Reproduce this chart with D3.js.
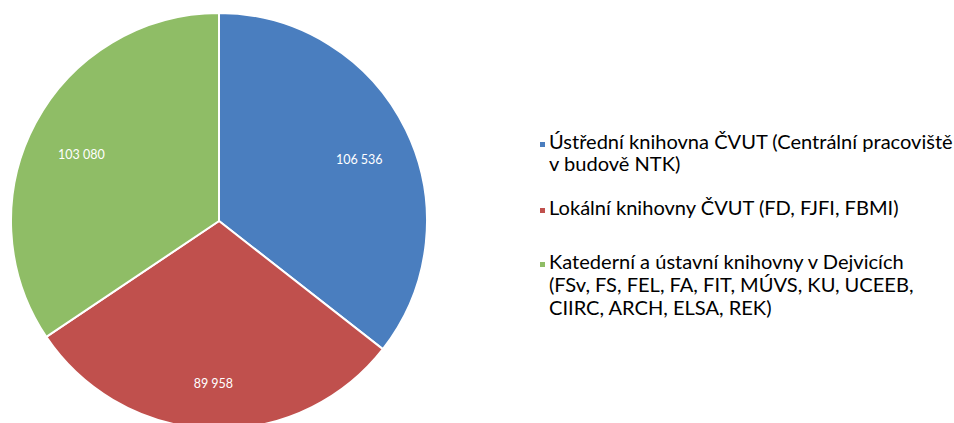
<!DOCTYPE html>
<html lang="cs">
<head>
<meta charset="UTF-8">
<title>Knihovny ČVUT</title>
<style>
    body { margin: 0; background: #fff; }
    svg { display: block; }
    text { font-family: Lato, "Open Sans", sans-serif; }
</style>
</head>
<body>
<script src="https://cdn.jsdelivr.net/npm/d3@7"></script>
<script>
    // données
    const categories = [
        "Ústřední knihovna ČVUT (Centrální pracoviště v budově NTK)",
        "Lokální knihovny ČVUT (FD, FJFI, FBMI)",
        "Katederní a ústavní knihovny v Dejvicích (FSv, FS, FEL, FA, FIT, MÚVS, KU, UCEEB, CIIRC, ARCH, ELSA, REK)"
    ];
    const valeurs = [106536, 89958, 103080];
    const lignesLegende = [
        ["Ústřední knihovna ČVUT (Centrální pracoviště", "v budově NTK)"],
        ["Lokální knihovny ČVUT (FD, FJFI, FBMI)"],
        ["Katederní a ústavní knihovny v Dejvicích", "(FSv, FS, FEL, FA, FIT, MÚVS, KU, UCEEB,", "CIIRC, ARCH, ELSA, REK)"]
    ];
    const couleurs = ["#4A7EBF", "#C0504D", "#8FBD66"];

    const largeur = 954, hauteur = 423;
    const cx = 219, cy = 221, rayon = 208;

    const svg = d3.select("body").append("svg")
        .attr("width", largeur)
        .attr("height", hauteur);

    const couleur = d3.scaleOrdinal().domain(categories).range(couleurs);

    const pie = d3.pie().sort(null).value(d => d.v);
    const donnees = pie(categories.map((c, i) => ({ c: c, v: valeurs[i] })));

    const arc = d3.arc().innerRadius(0).outerRadius(rayon);
    const arcLabel = d3.arc().innerRadius(156).outerRadius(156);

    const g = svg.append("g").attr("transform", `translate(${cx},${cy})`);

    g.selectAll("path")
        .data(donnees)
        .enter()
        .append("path")
            .attr("d", arc)
            .attr("fill", d => couleur(d.data.c))
            .attr("stroke", "#fff")
            .attr("stroke-width", 2);

    // étiquettes des valeurs
    const format = d3.formatLocale({ decimal: ",", thousands: "\u00a0", grouping: [3] }).format(",d");
    g.selectAll("text.valeur")
        .data(donnees)
        .enter()
        .append("text")
            .attr("class", "valeur")
            .attr("transform", d => {
                const p = arcLabel.centroid(d);
                return `translate(${p[0]},${p[1] + 7})`;
            })
            .attr("text-anchor", "middle")
            .attr("dy", "0.35em")
            .attr("font-size", 12.5)
            .attr("fill", "#fff")
            .text(d => format(d.data.v));

    // légende (lignes de base)
    const baseLegende = [[149, 171], [215], [269, 292, 315]];
    const legende = svg.append("g");

    lignesLegende.forEach((lignes, i) => {
        legende.append("rect")
            .attr("x", 540)
            .attr("y", baseLegende[i][0] - 7)
            .attr("width", 5)
            .attr("height", 5)
            .attr("fill", couleurs[i]);
        lignes.forEach((t, j) => {
            legende.append("text")
                .attr("class", "leg")
                .attr("x", 549)
                .attr("y", baseLegende[i][j])
                .attr("font-size", 19)
                .attr("fill", "#000")
                .text(t);
        });
    });

    // ajuster la taille pour que la première ligne fasse ~404px
    const premiere = legende.select("text.leg").node();
    const taille = 19 * 404 / premiere.getComputedTextLength();
    legende.selectAll("text.leg").attr("font-size", taille);
</script>
</body>
</html>
